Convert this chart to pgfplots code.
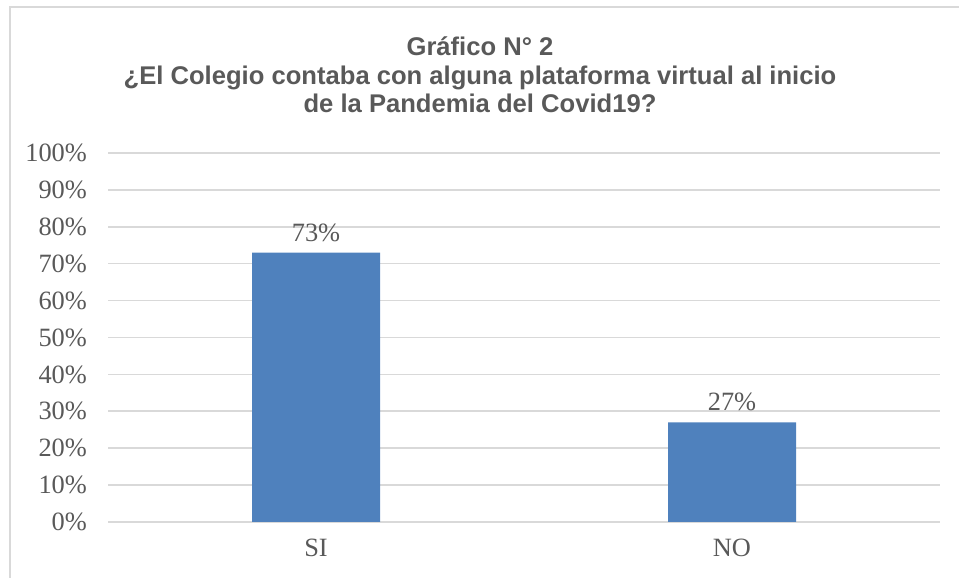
\documentclass[border=0pt]{standalone}
\usepackage{pgfplots}
\pgfplotsset{compat=1.18}
\usepackage{fontspec}
\setmainfont{Liberation Serif}
\newfontfamily\titlefont{Liberation Sans}
\definecolor{txt}{HTML}{595959}
\definecolor{gridc}{HTML}{D9D9D9}
\definecolor{barc}{HTML}{4F81BD}
\begin{document}
\begin{tikzpicture}[x=0.5pt,y=0.5pt]
\path[use as bounding box] (0,0) rectangle (959,578);
\draw[gridc, line width=0.8pt] (10,0) -- (10,571) -- (959,571);
\node[font=\titlefont\bfseries\fontsize{12.8}{14.3}\selectfont, text=txt, align=center] at (480,503) {Gráfico N° 2\\¿El Colegio contaba con alguna plataforma virtual al inicio\\de la Pandemia del Covid19?};
\begin{axis}[
  at={(54pt,28pt)}, anchor=south west,
  scale only axis, width=416pt, height=184.5pt,
  xmin=-0.5, xmax=1.5, ymin=0, ymax=100,
  axis line style={draw=none},
  xtick={0,1}, xticklabels={SI,NO},
  ytick={0,10,...,100},
  yticklabel={\pgfmathprintnumber{\tick}\%},
  major tick length=0pt,
  ymajorgrids, grid style={gridc, line width=0.8pt},
  tick label style={font=\fontsize{13.2}{15}\selectfont, text=txt},
  yticklabel style={xshift=-7pt},
  xticklabel style={yshift=-5pt},
  ybar, bar width=64pt,
  nodes near coords={\pgfmathprintnumber{\pgfplotspointmeta}\%},
  nodes near coords style={font=\fontsize{13.2}{15}\selectfont, text=txt, yshift=2pt},
  /pgf/number format/assume math mode=true,
  clip=false,
]
\addplot[fill=barc, draw=none] coordinates {(0,73) (1,27)};
\end{axis}
\end{tikzpicture}
\end{document}
